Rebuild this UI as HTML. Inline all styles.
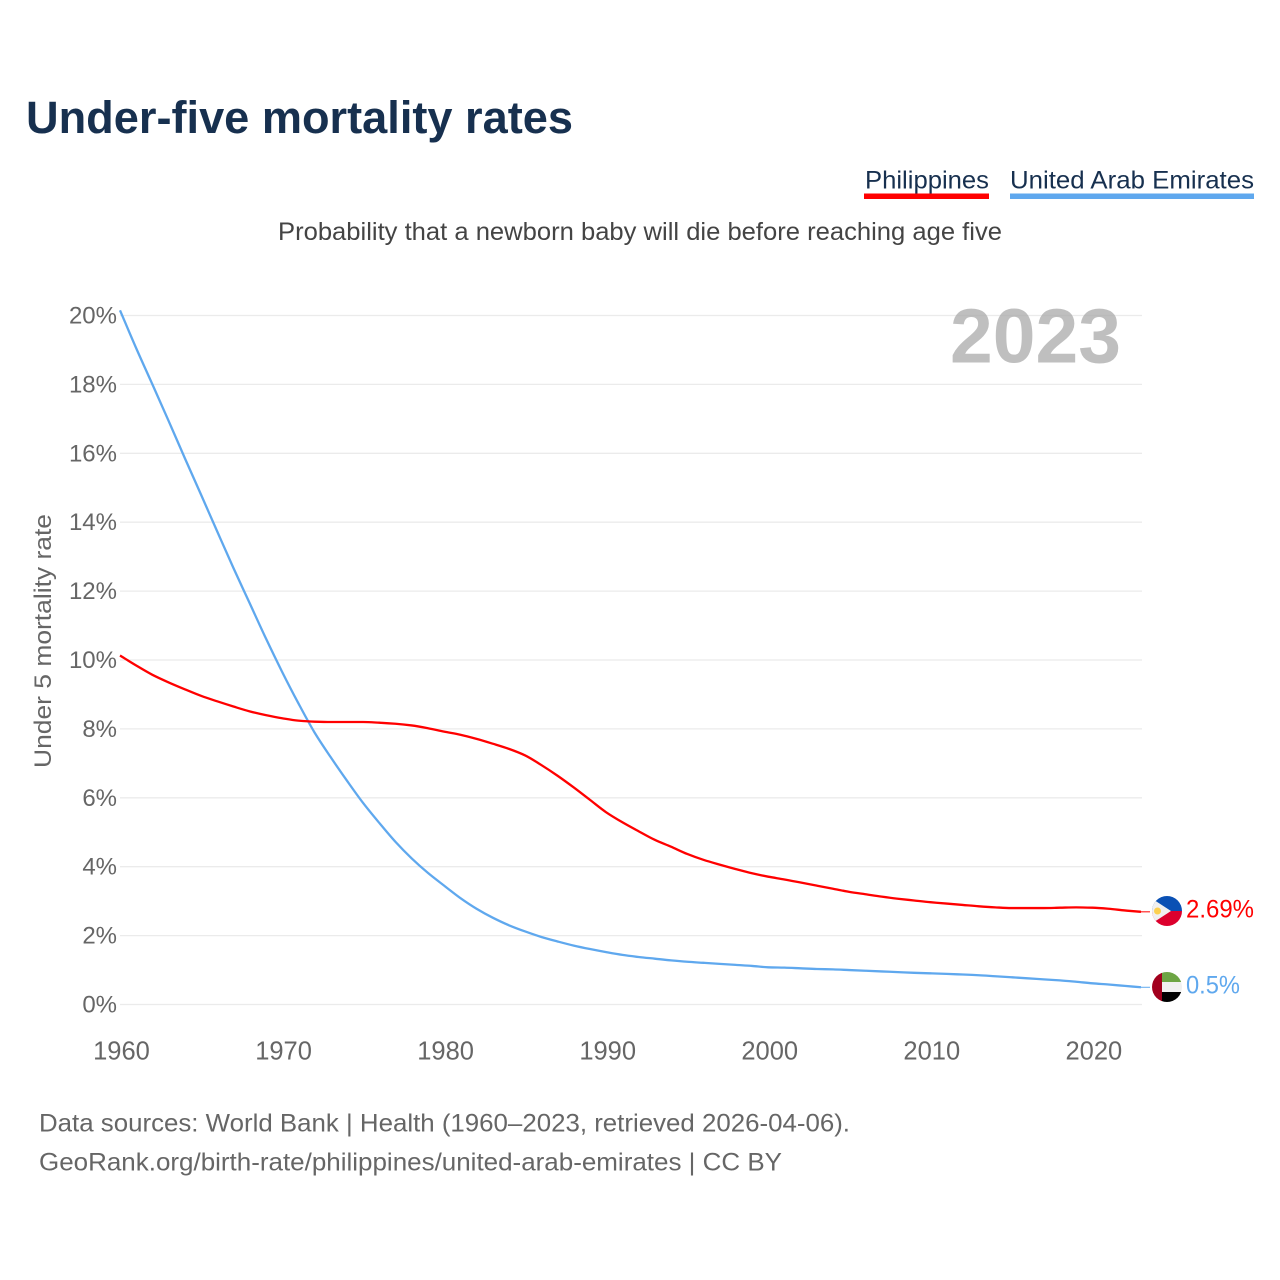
<!DOCTYPE html>
<html lang="en">
<head>
<meta charset="utf-8">
<title>Under-five mortality rates</title>
<style>
html,body{margin:0;padding:0;background:#fff;width:1280px;height:1280px;overflow:hidden}
svg{display:block;font-family:"Liberation Sans",Arial,sans-serif}
</style>
</head>
<body>
<svg id="chart" xmlns="http://www.w3.org/2000/svg" width="1280" height="1280" viewBox="0 0 1280 1280">
  <rect width="1280" height="1280" fill="#fff"/>
  <text x="26" y="133" font-size="45" font-weight="700" fill="#17304f" textLength="547" lengthAdjust="spacingAndGlyphs">Under-five mortality rates</text>

  <text x="865" y="188.500" font-size="25" fill="#17304f" textLength="124" lengthAdjust="spacingAndGlyphs">Philippines</text>
  <rect x="864" y="193.500" width="125" height="5.500" fill="#ff0000"/>
  <text x="1010" y="188.500" font-size="25" fill="#17304f" textLength="244" lengthAdjust="spacingAndGlyphs">United Arab Emirates</text>
  <rect x="1010" y="193.500" width="244" height="5.500" fill="#5fa8ee"/>

  <text x="278" y="240" font-size="25" fill="#444" textLength="724" lengthAdjust="spacingAndGlyphs">Probability that a newborn baby will die before reaching age five</text>

  <text transform="translate(51,768) rotate(-90)" font-size="24" fill="#666" textLength="254" lengthAdjust="spacingAndGlyphs">Under 5 mortality rate</text>

  <g id="grid"></g>
  <g id="yticks"></g>
  <g id="xticks"></g>
  <text x="950" y="362.500" font-size="77" font-weight="700" fill="#a6a6a6" fill-opacity="0.72" textLength="171" lengthAdjust="spacingAndGlyphs">2023</text>
  <g id="series"></g>

  <defs>
    <clipPath id="clip-ph"><circle cx="1167" cy="911" r="15"/></clipPath>
    <clipPath id="clip-ae"><circle cx="1167" cy="987" r="15"/></clipPath>
  </defs>
  <g clip-path="url(#clip-ph)">
    <rect x="1152" y="896" width="30" height="15" fill="#0a50b4"/>
    <rect x="1152" y="911" width="30" height="15" fill="#dc002d"/>
    <polygon points="1148,896 1148,926 1171,911" fill="#f0f0f0"/>
    <circle cx="1157.500" cy="911" r="3.500" fill="#fcd050"/>
  </g>
  <g clip-path="url(#clip-ae)">
    <rect x="1161" y="972" width="21" height="10" fill="#6da544"/>
    <rect x="1161" y="982" width="21" height="10" fill="#f0f0f0"/>
    <rect x="1161" y="992" width="21" height="10" fill="#000"/>
    <rect x="1152" y="972" width="10" height="30" fill="#a2001d"/>
  </g>

  <text x="1186" y="917.500" font-size="25" fill="#ff0000" textLength="68" lengthAdjust="spacingAndGlyphs">2.69%</text>
  <text x="1186" y="993.500" font-size="25" fill="#5fa8ee" textLength="54" lengthAdjust="spacingAndGlyphs">0.5%</text>

  <text x="39" y="1131.500" font-size="25" fill="#666" textLength="811" lengthAdjust="spacingAndGlyphs">Data sources: World Bank | Health (1960–2023, retrieved 2026-04-06).</text>
  <text x="39" y="1170.500" font-size="25" fill="#666" textLength="743" lengthAdjust="spacingAndGlyphs">GeoRank.org/birth-rate/philippines/united-arab-emirates | CC BY</text>
</svg>
<script>
const firstYear = 1960;
const yTicks = [0, 2, 4, 6, 8, 10, 12, 14, 16, 18, 20];
const xTicks = [1960, 1970, 1980, 1990, 2000, 2010, 2020];
const philippines = [10.13, 9.84, 9.57, 9.35, 9.15, 8.96, 8.8, 8.65, 8.51, 8.4, 8.31, 8.24, 8.21, 8.2, 8.2, 8.2, 8.18, 8.15, 8.1, 8.02, 7.92, 7.83, 7.71, 7.57, 7.42, 7.23, 6.95, 6.64, 6.3, 5.94, 5.58, 5.29, 5.03, 4.78, 4.58, 4.37, 4.2, 4.06, 3.93, 3.81, 3.71, 3.63, 3.54, 3.45, 3.36, 3.27, 3.2, 3.13, 3.07, 3.02, 2.97, 2.93, 2.89, 2.85, 2.82, 2.8, 2.8, 2.8, 2.81, 2.82, 2.81, 2.78, 2.73, 2.69];
const uae = [20.15, 19.05, 18.0, 16.94, 15.86, 14.8, 13.73, 12.67, 11.65, 10.63, 9.66, 8.75, 7.9, 7.18, 6.5, 5.85, 5.27, 4.72, 4.24, 3.82, 3.45, 3.09, 2.78, 2.52, 2.3, 2.12, 1.96, 1.83, 1.71, 1.61, 1.52, 1.44, 1.38, 1.33, 1.28, 1.24, 1.21, 1.18, 1.15, 1.12, 1.08, 1.07, 1.05, 1.03, 1.02, 1.0, 0.98, 0.96, 0.94, 0.92, 0.905, 0.89, 0.87, 0.85, 0.82, 0.79, 0.76, 0.73, 0.7, 0.66, 0.615, 0.58, 0.54, 0.5];

const NS = 'http://www.w3.org/2000/svg';
function xScale(year) { return 120 + (year - 1960) * 16.206; }
function yScale(value) { return 1004.5 - value * 34.45; }

const gridGroup = document.getElementById('grid');
const yTickGroup = document.getElementById('yticks');
const xTickGroup = document.getElementById('xticks');
const seriesGroup = document.getElementById('series');

yTicks.forEach(function (tick) {
  const line = document.createElementNS(NS, 'line');
  
  
  line.setAttribute('x1', 120);
  line.setAttribute('x2', 1142);
  line.setAttribute('y1', yScale(tick));
  line.setAttribute('y2', yScale(tick));
  line.setAttribute('stroke', '#ebebeb');
  line.setAttribute('stroke-width', 1.3);
  gridGroup.appendChild(line);

  const label = document.createElementNS(NS, 'text');
  
  
  label.setAttribute('x', 117);
  label.setAttribute('y', yScale(tick) + 8);
  label.setAttribute('text-anchor', 'end');
  label.setAttribute('font-size', 24);
  label.setAttribute('fill', '#666');
  label.textContent = tick + '%';
  yTickGroup.appendChild(label);
});

xTicks.forEach(function (tick) {
  const label = document.createElementNS(NS, 'text');
  
  
  label.setAttribute('x', xScale(tick) + 1.5);
  label.setAttribute('y', 1059.5);
  label.setAttribute('text-anchor', 'middle');
  label.setAttribute('font-size', 25.5);
  label.setAttribute('fill', '#666');
  label.textContent = tick;
  xTickGroup.appendChild(label);
});

/* Monotone cubic curve through the yearly values, built from the axis functions. */
function pathFor(values) {
  const n = values.length;
  const px = values.map(function (v, i) { return xScale(firstYear + i); });
  const py = values.map(function (v) { return yScale(v); });
  const slopes = [];
  for (let i = 0; i < n - 1; i++) {
    slopes.push((py[i + 1] - py[i]) / (px[i + 1] - px[i]));
  }
  const tangents = [slopes[0]];
  for (let i = 1; i < n - 1; i++) {
    tangents.push(slopes[i - 1] * slopes[i] <= 0 ? 0 : (2 * slopes[i - 1] * slopes[i]) / (slopes[i - 1] + slopes[i]));
  }
  tangents.push(slopes[n - 2]);
  let d = 'M' + px[0].toFixed(2) + ' ' + py[0].toFixed(2);
  for (let i = 0; i < n - 1; i++) {
    const h = (px[i + 1] - px[i]) / 3;
    d += ' C' + (px[i] + h).toFixed(2) + ' ' + (py[i] + tangents[i] * h).toFixed(2) + ' ' +
      (px[i + 1] - h).toFixed(2) + ' ' + (py[i + 1] - tangents[i + 1] * h).toFixed(2) + ' ' +
      px[i + 1].toFixed(2) + ' ' + py[i + 1].toFixed(2);
  }
  return d;
}

const uaeLine = document.createElementNS(NS, 'path');


uaeLine.setAttribute('d', pathFor(uae));
uaeLine.setAttribute('fill', 'none');
uaeLine.setAttribute('stroke', '#5fa8ee');
uaeLine.setAttribute('stroke-width', 2.3);
uaeLine.setAttribute('stroke-linejoin', 'round');
seriesGroup.appendChild(uaeLine);

const phLine = document.createElementNS(NS, 'path');


phLine.setAttribute('d', pathFor(philippines));
phLine.setAttribute('fill', 'none');
phLine.setAttribute('stroke', '#ff0000');
phLine.setAttribute('stroke-width', 2.3);
phLine.setAttribute('stroke-linejoin', 'round');
seriesGroup.appendChild(phLine);

const lastYear = firstYear + philippines.length - 1;

const uaeLead = document.createElementNS(NS, 'line');


uaeLead.setAttribute('x1', xScale(lastYear));
uaeLead.setAttribute('x2', 1150);
uaeLead.setAttribute('y1', yScale(uae[uae.length - 1]));
uaeLead.setAttribute('y2', yScale(uae[uae.length - 1]));
uaeLead.setAttribute('stroke', '#5fa8ee');
uaeLead.setAttribute('stroke-width', 1);
seriesGroup.appendChild(uaeLead);

const phLead = document.createElementNS(NS, 'line');


phLead.setAttribute('x1', xScale(lastYear));
phLead.setAttribute('x2', 1150);
phLead.setAttribute('y1', yScale(philippines[philippines.length - 1]));
phLead.setAttribute('y2', yScale(philippines[philippines.length - 1]));
phLead.setAttribute('stroke', '#ff0000');
phLead.setAttribute('stroke-width', 1);
seriesGroup.appendChild(phLead);
</script>
</body>
</html>
